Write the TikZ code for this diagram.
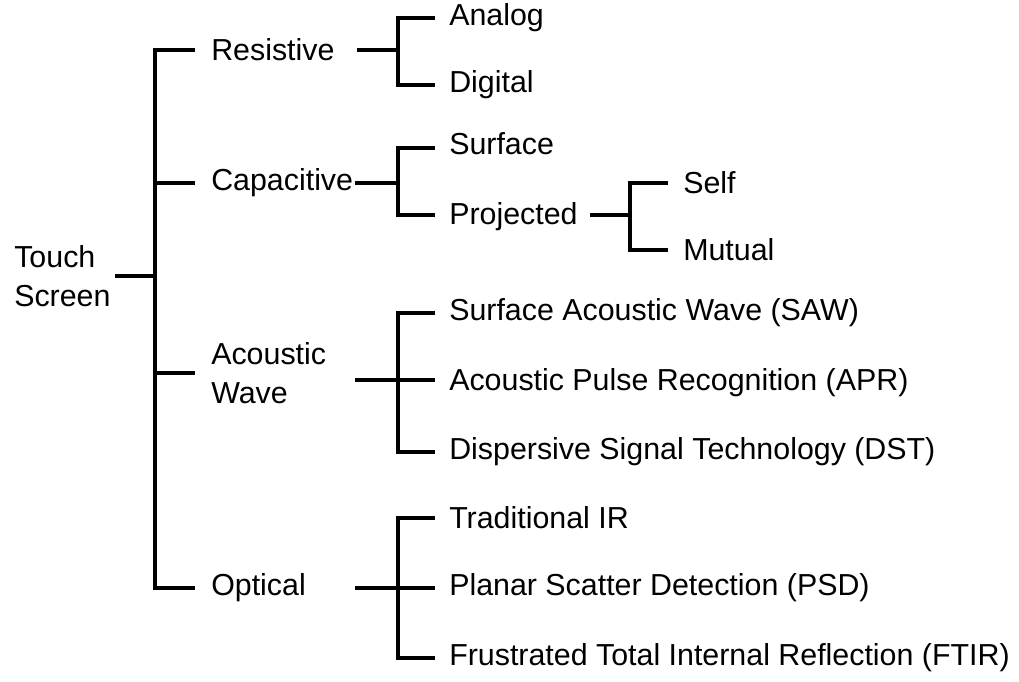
\documentclass[tikz,border=0pt]{standalone}
\usepackage{fontspec}
\setmainfont{Liberation Sans}
\begin{document}
\begin{tikzpicture}[x=0.025cm,y=-0.025cm,
  lbl/.style={anchor=west,inner sep=0pt,font=\fontsize{21.6}{28}\selectfont},
  ln/.style={line width=2.2pt}]
  \useasboundingbox (0,0) rectangle (1019,682);

  \node[lbl,align=left] (ts) at (14,276) {Touch\\Screen};
  \node[lbl] (res) at (211,50) {Resistive};
  \node[lbl] (cap) at (211,183) {Capacitive};
  \node[lbl,align=left] (aco) at (211,373) {Acoustic\\Wave};
  \node[lbl] (opt) at (211,588) {Optical};

  \node[lbl] (ana) at (449,18) {Analog};
  \node[lbl] (dig) at (449,85) {Digital};
  \node[lbl] (sur) at (449,144) {Surface};
  \node[lbl] (pro) at (449,217) {Projected};
  \node[lbl] (slf) at (683,183) {Self};
  \node[lbl] (mut) at (683,250) {Mutual};
  \node[lbl] (saw) at (449,313) {Surface Acoustic Wave (SAW)};
  \node[lbl] (apr) at (449,383) {Acoustic Pulse Recognition (APR)};
  \node[lbl] (dst) at (449,452) {Dispersive Signal Technology (DST)};
  \node[lbl] (tir) at (449,518) {Traditional IR};
  \node[lbl] (psd) at (449,588) {Planar Scatter Detection (PSD)};
  \node[lbl] (ftir) at (449,658) {Frustrated Total Internal Reflection (FTIR)};

  % root
  \coordinate (r0) at (115,276);
  \coordinate (r1) at (155,276);
  \draw[ln] (r0) -- (r1);
  \draw[ln] (195,50) -| (155,588) -- (195,588);
  \draw[ln] (155,183) -- (195,183);
  \draw[ln] (155,373) -- (195,373);

  % resistive
  \draw[ln] (357,50) -- (398,50);
  \draw[ln] (435,18) -| (398,85) -- (435,85);

  % capacitive
  \draw[ln] (355,183) -- (398,183);
  \draw[ln] (435,148) -| (398,215) -- (435,215);
  \draw[ln] (590,215) -- (630,215);
  \draw[ln] (668,183) -| (630,250) -- (668,250);

  % acoustic
  \draw[ln] (355,380) -- (435,380);
  \draw[ln] (435,313) -| (398,452) -- (435,452);

  % optical
  \draw[ln] (355,588) -- (435,588);
  \draw[ln] (435,518) -| (398,658) -- (435,658);
\end{tikzpicture}
\end{document}
